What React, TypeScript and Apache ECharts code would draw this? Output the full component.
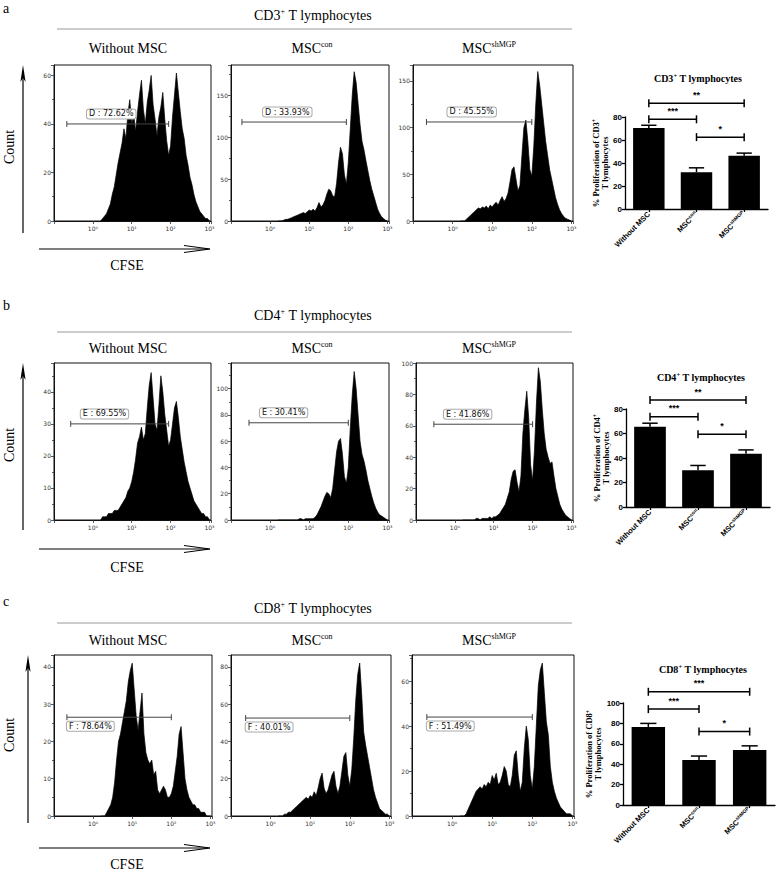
import React, { useEffect, useRef } from 'react';
import * as echarts from 'echarts';

// ---------------- DATA ----------------
// CFSE histogram bins (log10 fluorescence), regular grid
const BIN_START = 0.2;
const BIN_STEP = 0.05;

// Counts per bin
const cd3Without = [0,1,2,3,5,7,11,14,19,24, 28,32,38,34,44,50,40,44,37,45, 52,58,46,40,49,54,60,48,42,35, 43,47,53,42,33,27,31,43,52,61, 53,45,38,34,27,23,18,15,11,8, 6,4,3,2,1,1,0];
const cd3Con = [0,0,0,1,2,2,3,4,5,6, 7,8,9,10,9,11,13,12,14,12, 16,22,17,19,24,32,38,36,30,29, 45,70,88,80,55,44,70,110,150,178, 165,140,115,95,85,72,60,48,38,30, 22,14,9,5,3,1,0];
const cd3Sh = [0,0,0,2,4,6,8,10,12,14, 13,15,14,16,13,17,15,18,20,17, 22,26,21,24,30,42,55,58,45,32, 38,70,100,108,85,55,48,80,125,160, 145,125,105,85,70,55,45,35,25,18, 12,8,5,3,2,1,0];

const cd4Without = [0,1,1,1,2,2,2,3,3,3, 4,5,6,7,9,10,12,15,19,24, 26,29,25,27,35,42,46,38,30,28, 36,45,40,33,28,23,25,30,35,37, 32,26,22,18,15,12,10,8,6,5, 4,3,2,2,1,1,0];
const cd4Con = [0,0,0,0,0,0,0,0,0,0, 0,1,1,0,1,1,1,1,1,2, 4,7,10,14,18,21,20,17,24,38, 52,60,62,50,33,28,40,70,95,113, 100,80,60,50,45,38,30,24,18,13, 9,6,4,3,2,1,0];
const cd4Sh = [0,0,0,0,0,0,0,1,1,0, 1,1,1,1,2,1,2,2,3,4, 6,8,10,14,18,26,31,32,24,18, 28,55,70,82,65,35,25,45,75,97, 88,70,55,45,40,36,37,28,20,15, 10,7,5,3,2,1,0];

const cd8Without = [0,0,0,1,2,3,5,9,15,20, 22,25,28,31,36,39,41,34,27,23, 28,33,22,17,15,14,15,11,12,7, 6,7,8,7,5,5,6,8,12,16, 22,24,17,10,7,5,4,3,3,2, 2,1,1,1,0,0,0];
const cd8Con = [0,0,0,1,1,2,2,3,4,5, 6,7,8,9,10,9,11,10,13,11, 15,20,23,15,12,14,18,22,24,16, 12,16,24,32,34,22,16,25,42,62, 76,82,65,45,38,32,26,20,14,10, 7,4,3,2,1,1,0];
const cd8Sh = [0,0,0,1,3,5,7,9,11,12, 13,12,14,13,15,14,18,16,19,14, 15,18,22,20,14,13,18,27,29,18, 11,15,30,40,34,18,12,22,40,58, 65,68,55,42,36,22,15,11,8,6, 4,3,2,1,1,1,0];

// Gates: [from log10, to log10, count level]
const cd3Gates = [[-0.67, 1.95, 40], [-0.72, 1.95, 118], [-0.66, 2.0, 106]];
const cd4Gates = [[-0.57, 1.95, 30], [-0.54, 2.0, 74], [-0.54, 2.0, 61]];
const cd8Gates = [[-0.67, 2.0, 26.5], [-0.63, 2.0, 52.5], [-0.63, 2.0, 44]];
const cd3GateText = ['D : 72.62%', 'D : 33.93%', 'D : 45.55%'];
const cd4GateText = ['E : 69.55%', 'E : 30.41%', 'E : 41.86%'];
const cd8GateText = ['F : 78.64%', 'F : 40.01%', 'F : 51.49%'];

// Flow axis tick labels
const flowTickLabels = ['10⁰', '10¹', '10²', '10³'];

// Bar charts
const barCategories = ['Without MSC', 'MSC^con', 'MSC^shMGP'];
const cd3Mean = [70.4, 32.0, 46.3];
const cd3Err = [2.4, 3.8, 2.3];
const cd4Mean = [65.6, 30.1, 43.4];
const cd4Err = [2.8, 3.8, 3.2];
const cd8Mean = [76.5, 44.0, 54.0];
const cd8Err = [3.5, 4.0, 4.0];
// significance brackets: [from category, to category, level, stars]
const cd3Sig = [[0, 2, 92, '**'], [0, 1, 78, '***'], [1, 2, 62.5, '*']];
const cd4Sig = [[0, 2, 87.3, '**'], [0, 1, 73.7, '***'], [1, 2, 59.4, '*']];
const cd8Sig = [[0, 2, 111, '***'], [0, 1, 94, '***'], [1, 2, 72, '*']];

const markers = ['CD3', 'CD4', 'CD8'];
const columnTitles = [['Without MSC', ''], ['MSC', 'con'], ['MSC', 'shMGP']];
const rowLetters = ['a', 'b', 'c'];

// ---------------- LAYOUT ----------------
const SERIF = '"Liberation Serif", "Times New Roman", serif';
const SANS = '"Liberation Sans", Arial, sans-serif';
const FLOW = '"DejaVu Sans", sans-serif';

const HIST_LAYOUT = [
  [{ left: 54, top: 65, width: 157, height: 156 }, { left: 231, top: 65, width: 158, height: 156 }, { left: 413, top: 65, width: 160, height: 156 }],
  [{ left: 54, top: 363, width: 157, height: 157 }, { left: 231, top: 363, width: 158, height: 157 }, { left: 416, top: 363, width: 157, height: 157 }],
  [{ left: 54, top: 655, width: 158, height: 161 }, { left: 231, top: 655, width: 160, height: 161 }, { left: 412, top: 655, width: 162, height: 161 }],
];
const HIST_YMAX = [[64.3, 186, 167], [49, 119.5, 100], [43.2, 86.3, 71.6]];
const HIST_YINT = [[20, 50, 50], [10, 20, 20], [10, 20, 20]];
const GATE_LABEL_X = [[-0.15, -0.18, -0.13], [-0.31, -0.26, -0.28], [-0.67, -0.63, -0.63]];
const GATE_LABEL_DY = [-10, -10, 9];

const BAR_LAYOUT = [
  { left: 625, top: 117, width: 143, height: 92 },
  { left: 626, top: 409, width: 144, height: 98 },
  { left: 623, top: 703, width: 152, height: 102 },
];
const BAR_YMAX = [80, 80, 100];

const ROW = {
  letter: [8, 305, 601],
  section: [15, 315, 608],
  line: [29, 332, 623],
  colTitle: [48, 348, 640],
  count: [147, 445, 735],
  vTop: [65, 363, 655],
  vBottom: [233, 530, 823],
  vX: [23, 23, 28],
  hY: [249, 549, 848],
  cfse: [265, 567, 864],
  barTitle: [78, 377, 669],
};
const COL_TITLE_X = [128, 312, 489];
const BAR_TITLE_X = [698, 701, 703];

// ---------------- OPTION ----------------
const histData = [[cd3Without, cd3Con, cd3Sh], [cd4Without, cd4Con, cd4Sh], [cd8Without, cd8Con, cd8Sh]];
const gateData = [cd3Gates, cd4Gates, cd8Gates];
const gateText = [cd3GateText, cd4GateText, cd8GateText];
const barMeans = [cd3Mean, cd4Mean, cd8Mean];
const barErrs = [cd3Err, cd4Err, cd8Err];
const barSig = [cd3Sig, cd4Sig, cd8Sig];

function supRich(main: number, sup: number, bold: boolean, family: string, mainLH: number) {
  const w = bold ? 'bold' : 'normal';
  return {
    t: { fontSize: main, fontFamily: family, fontWeight: w, fill: '#000', lineHeight: mainLH },
    s: { fontSize: sup, fontFamily: family, fontWeight: w, fill: '#000', verticalAlign: 'top', lineHeight: Math.round(mainLH * 0.6) },
  };
}

function buildOption() {
  const grid: any[] = [];
  const xAxis: any[] = [];
  const yAxis: any[] = [];
  const series: any[] = [];
  const graphic: any[] = [];

  for (let r = 0; r < 3; r++) {
    for (let c = 0; c < 3; c++) {
      const gi = r * 3 + c;
      const L = HIST_LAYOUT[r][c];
      grid.push({ ...L, show: true, borderColor: '#111', borderWidth: 1, containLabel: false });
      xAxis.push({
        type: 'value', gridIndex: gi, min: -1, max: 3.04, interval: 1,
        axisLine: { show: true, onZero: false, lineStyle: { color: '#111', width: 1 } },
        axisTick: { show: true, length: 3, lineStyle: { color: '#333', width: 0.8 } },
        minorTick: { show: false },
        axisLabel: {
          fontSize: 6, color: '#333', margin: 4, fontFamily: FLOW,
          formatter: (v: number) => {
            const k = Math.round(v);
            return Math.abs(v - k) < 1e-6 && k >= 0 && k < flowTickLabels.length ? flowTickLabels[k] : '';
          },
        },
        splitLine: { show: false },
      });
      const intv = HIST_YINT[r][c];
      yAxis.push({
        type: 'value', gridIndex: gi, min: 0, max: HIST_YMAX[r][c], interval: intv,
        axisLine: { show: true, onZero: false, lineStyle: { color: '#111', width: 1 } },
        axisTick: { show: true, length: 3, lineStyle: { color: '#333', width: 0.8 } },
        minorTick: { show: true, splitNumber: 2, length: 2, lineStyle: { color: '#333', width: 0.8 } },
        axisLabel: {
          fontSize: 6, color: '#333', margin: 3, fontFamily: FLOW,
          formatter: (v: number) => (Math.abs(v / intv - Math.round(v / intv)) < 1e-6 ? String(v) : ''),
        },
        splitLine: { show: false },
      });
      const vals = histData[r][c];
      series.push({
        type: 'line', xAxisIndex: gi, yAxisIndex: gi, silent: true,
        data: vals.map((v, i) => [BIN_START + i * BIN_STEP, v]),
        showSymbol: false, symbol: 'none',
        lineStyle: { color: '#000', width: 0.7 },
        areaStyle: { color: '#000', opacity: 1 },
        z: 2,
      });
      const labelX = GATE_LABEL_X[r][c];
      const dy = GATE_LABEL_DY[r];
      const txt = gateText[r][c];
      series.push({
        type: 'custom', xAxisIndex: gi, yAxisIndex: gi, silent: true, z: 5,
        data: [gateData[r][c]],
        renderItem: (params: any, api: any) => {
          const y = api.value(2);
          const p1 = api.coord([api.value(0), y]);
          const p2 = api.coord([api.value(1), y]);
          const pl = api.coord([labelX, y]);
          const st = { stroke: '#444', lineWidth: 1 };
          return {
            type: 'group',
            children: [
              { type: 'line', shape: { x1: p1[0], y1: p1[1], x2: p2[0], y2: p2[1] }, style: st },
              { type: 'line', shape: { x1: p1[0], y1: p1[1] - 3, x2: p1[0], y2: p1[1] + 3 }, style: st },
              { type: 'line', shape: { x1: p2[0], y1: p2[1] - 3, x2: p2[0], y2: p2[1] + 3 }, style: st },
              {
                type: 'text', x: pl[0], y: pl[1] + dy,
                style: {
                  text: txt, fontSize: 8, fontFamily: FLOW, fill: '#111',
                  align: 'left', verticalAlign: 'middle',
                  backgroundColor: '#fff', borderColor: '#aaa', borderWidth: 1, borderRadius: 2,
                  padding: [1, 2, 0, 2],
                },
              },
            ],
          };
        },
      });
    }
  }

  // Bar charts
  for (let r = 0; r < 3; r++) {
    const gi = 9 + r;
    grid.push({ ...BAR_LAYOUT[r], containLabel: false });
    xAxis.push({
      type: 'category', gridIndex: gi, data: barCategories,
      axisLine: { show: true, lineStyle: { color: '#000', width: 1.3 } },
      axisTick: { show: true, alignWithLabel: true, length: 3, lineStyle: { color: '#000', width: 1.3 } },
      axisLabel: {
        rotate: 45, margin: 4, interval: 0,
        formatter: (v: string) => {
          const [m, s] = v.split('^');
          return s ? `{m|${m}}{s|${s}}` : `{m|${m}}`;
        },
        rich: {
          m: { fontSize: 7.5, fontWeight: 'bold', fontFamily: SANS, color: '#000', lineHeight: 10 },
          s: { fontSize: 5, fontWeight: 'bold', fontFamily: SANS, color: '#000', verticalAlign: 'top', lineHeight: 6 },
        },
      },
      splitLine: { show: false },
    });
    yAxis.push({
      type: 'value', gridIndex: gi, min: 0, max: BAR_YMAX[r], interval: 20,
      name: `{n|% Proliferation of ${markers[r]}}{s|+}\n{n|T lymphocytes}`,
      nameLocation: 'middle', nameGap: 13, nameRotate: 90,
      nameTextStyle: {
        rich: {
          n: { fontSize: 8.5, fontWeight: 'bold', fontFamily: SERIF, color: '#000', lineHeight: 9, align: 'center' },
          s: { fontSize: 6, fontWeight: 'bold', fontFamily: SERIF, color: '#000', verticalAlign: 'top', lineHeight: 6 },
        },
      },
      axisLine: { show: true, lineStyle: { color: '#000', width: 1.3 } },
      axisTick: { show: true, length: 3, lineStyle: { color: '#000', width: 1.3 } },
      axisLabel: { fontSize: 8, fontWeight: 'bold', fontFamily: SANS, color: '#000', margin: 3 },
      splitLine: { show: false },
    });
    series.push({
      type: 'bar', xAxisIndex: gi, yAxisIndex: gi, silent: true,
      data: barMeans[r], barWidth: '66%', itemStyle: { color: '#000' }, z: 2,
    });
    const errs = barErrs[r];
    series.push({
      type: 'custom', xAxisIndex: gi, yAxisIndex: gi, silent: true, z: 4,
      data: barMeans[r].map((m, i) => [i, m, m + errs[i]]),
      renderItem: (params: any, api: any) => {
        const i = api.value(0);
        const b = api.coord([i, api.value(1)]);
        const t = api.coord([i, api.value(2)]);
        const w = api.size([1, 0])[0] * 0.32;
        const st = { stroke: '#000', lineWidth: 1.5 };
        return {
          type: 'group',
          children: [
            { type: 'line', shape: { x1: b[0], y1: b[1], x2: t[0], y2: t[1] }, style: st },
            { type: 'line', shape: { x1: t[0] - w / 2, y1: t[1], x2: t[0] + w / 2, y2: t[1] }, style: st },
          ],
        };
      },
    });
    const sig = barSig[r];
    series.push({
      type: 'custom', xAxisIndex: gi, yAxisIndex: gi, silent: true, z: 4, clip: false,
      data: sig.map((s) => [s[0], s[1], s[2]]),
      renderItem: (params: any, api: any) => {
        const y = api.value(2);
        const p1 = api.coord([api.value(0), y]);
        const p2 = api.coord([api.value(1), y]);
        const st = { stroke: '#000', lineWidth: 1.5 };
        const stars = sig[params.dataIndex][3] as string;
        return {
          type: 'group',
          children: [
            { type: 'line', shape: { x1: p1[0], y1: p1[1], x2: p2[0], y2: p2[1] }, style: st },
            { type: 'line', shape: { x1: p1[0], y1: p1[1] - 4, x2: p1[0], y2: p1[1] + 4 }, style: st },
            { type: 'line', shape: { x1: p2[0], y1: p2[1] - 4, x2: p2[0], y2: p2[1] + 4 }, style: st },
            {
              type: 'text', x: (p1[0] + p2[0]) / 2, y: p1[1] - 4,
              style: { text: stars, fontSize: 9, fontFamily: SANS, fontWeight: 'bold', fill: '#000', align: 'center', verticalAlign: 'bottom' },
            },
          ],
        };
      },
    });
  }

  // Graphic annotations
  for (let r = 0; r < 3; r++) {
    graphic.push({
      type: 'text', x: 3, y: ROW.letter[r], silent: true,
      style: { text: rowLetters[r], fontSize: 14, fontFamily: SERIF, fill: '#000', align: 'left', verticalAlign: 'middle' },
    });
    graphic.push({
      type: 'text', x: 313, y: ROW.section[r], silent: true,
      style: {
        text: `{t|${markers[r]}}{s|+}{t| T lymphocytes}`, align: 'center', verticalAlign: 'middle',
        rich: supRich(14, 8, false, SERIF, 16),
      },
    });
    graphic.push({
      type: 'line', silent: true,
      shape: { x1: 57, y1: ROW.line[r], x2: 572, y2: ROW.line[r] },
      style: { stroke: '#9a9a9a', lineWidth: 1 },
    });
    for (let c = 0; c < 3; c++) {
      const [m, s] = columnTitles[c];
      graphic.push({
        type: 'text', x: COL_TITLE_X[c], y: ROW.colTitle[r], silent: true,
        style: {
          text: s ? `{t|${m}}{s|${s}}` : `{t|${m}}`, align: 'center', verticalAlign: 'middle',
          rich: supRich(14, 8, false, SERIF, 16),
        },
      });
    }
    graphic.push({
      type: 'text', x: 9, y: ROW.count[r], rotation: Math.PI / 2, silent: true,
      style: { text: 'Count', fontSize: 14, fontFamily: SERIF, fill: '#000', align: 'center', verticalAlign: 'middle' },
    });
    const vx = ROW.vX[r];
    graphic.push({
      type: 'line', silent: true,
      shape: { x1: vx, y1: ROW.vBottom[r], x2: vx, y2: ROW.vTop[r] + 10 },
      style: { stroke: '#000', lineWidth: 1.2 },
    });
    graphic.push({
      type: 'polygon', silent: true,
      shape: { points: [[vx, ROW.vTop[r]], [vx + 2.6, ROW.vTop[r] + 17], [vx, ROW.vTop[r] + 13], [vx - 2.6, ROW.vTop[r] + 17]] },
      style: { fill: '#000' },
    });
    const hy = ROW.hY[r];
    graphic.push({
      type: 'line', silent: true,
      shape: { x1: 39, y1: hy, x2: 208, y2: hy },
      style: { stroke: '#000', lineWidth: 1.2 },
    });
    graphic.push({
      type: 'polyline', silent: true,
      shape: { points: [[184, hy - 3.5], [210, hy], [184, hy + 3.5]] },
      style: { stroke: '#000', lineWidth: 1, fill: 'none' },
    });
    graphic.push({
      type: 'text', x: 127, y: ROW.cfse[r], silent: true,
      style: { text: 'CFSE', fontSize: 14, fontFamily: SERIF, fill: '#000', align: 'center', verticalAlign: 'middle' },
    });
    graphic.push({
      type: 'text', x: BAR_TITLE_X[r], y: ROW.barTitle[r], silent: true,
      style: {
        text: `{t|${markers[r]}}{s|+}{t| T lymphocytes}`, align: 'center', verticalAlign: 'middle',
        rich: supRich(10, 6.5, true, SERIF, 12),
      },
    });
  }

  return {
    animation: false,
    backgroundColor: '#fff',
    textStyle: { fontFamily: SERIF },
    tooltip: { show: false },
    grid, xAxis, yAxis, series, graphic,
  };
}

export default function App() {
  const ref = useRef<HTMLDivElement>(null);
  useEffect(() => {
    if (!ref.current) return;
    const chart = echarts.init(ref.current, null, { renderer: 'svg' });
    chart.setOption(buildOption() as any);
    return () => chart.dispose();
  }, []);
  return (
    <div
      ref={ref}
      style={{ position: 'absolute', left: 0, top: 0, width: 780, height: 871, background: '#fff' }}
    />
  );
}
